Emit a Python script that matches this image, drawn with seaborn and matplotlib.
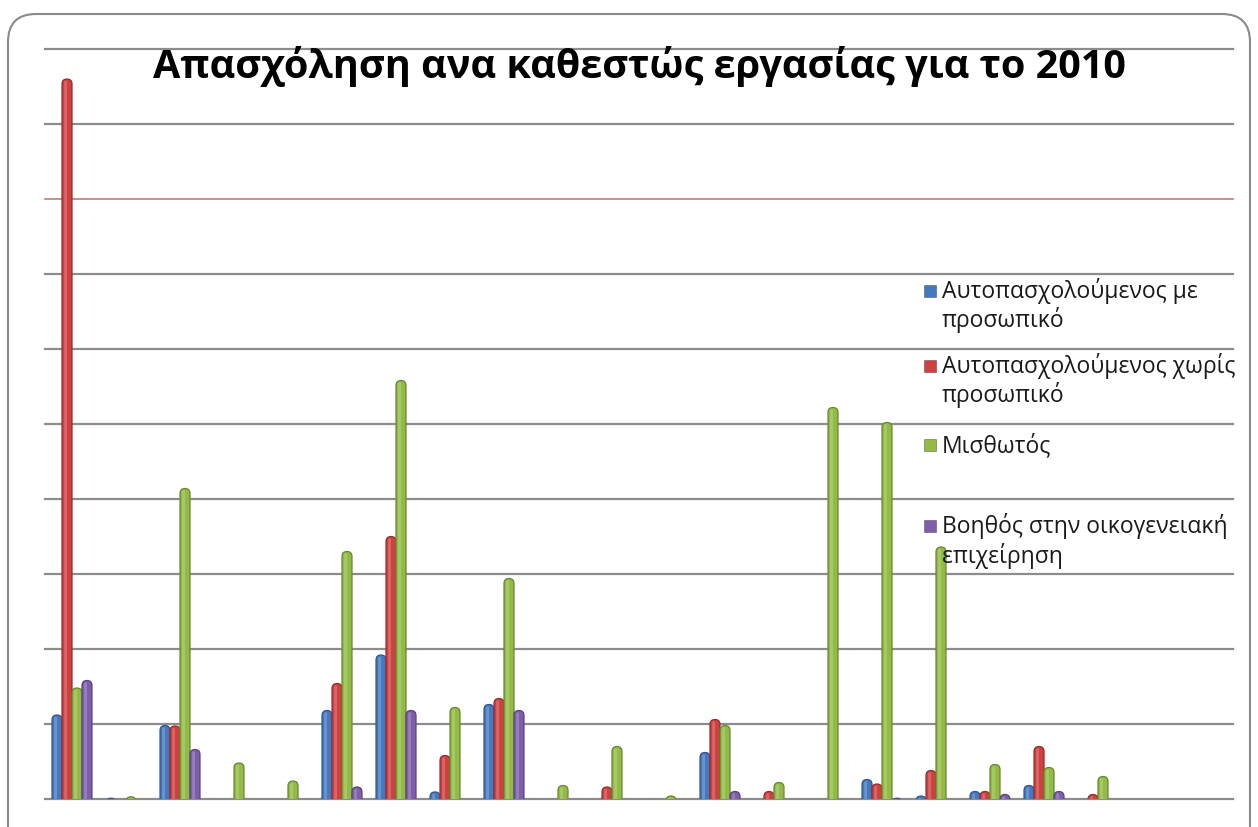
import matplotlib
matplotlib.use("Agg")
import matplotlib.pyplot as plt
from matplotlib.patches import FancyBboxPatch, Rectangle
import matplotlib.colors as mcolors
import seaborn as sns
import pandas as pd

# Data (one gridline = 50 units)
groups = [str(i) for i in range(1, 23)]
series = ["Αυτοπασχολούμενος με προσωπικό",
          "Αυτοπασχολούμενος χωρίς προσωπικό",
          "Μισθωτός",
          "Βοηθός στην οικογενειακή επιχείρηση"]
legend_lines = [["Αυτοπασχολούμενος με", "προσωπικό"],
                ["Αυτοπασχολούμενος χωρίς", "προσωπικό"],
                ["Μισθωτός"],
                ["Βοηθός στην οικογενειακή", "επιχείρηση"]]
with_staff = [56, 0.5, 49, 0, 0, 59, 96, 4.7, 63, 0, 0, 0, 31, 0, 0, 13, 2, 5, 9, 0, 0, 0]
without_staff = [480, 0, 48.7, 0, 0, 77, 175, 29, 67, 0, 8, 0, 53, 5, 0, 10, 19, 5, 35, 3, 0, 0]
employees = [74, 1.5, 207, 24, 12, 165, 279, 61, 147, 9, 35, 2, 49, 11, 261, 251, 168, 23, 21, 15, 0, 0]
family_help = [79, 0, 33, 0, 0, 8, 59, 0, 59, 0, 0, 0, 5, 0, 0, 0.5, 0, 3, 5, 0, 0, 0]
colors = ["#4479c0", "#cf4040", "#91bb45", "#7e5eaa"]

df = pd.DataFrame({
    "group": groups * 4,
    "series": [s for s in series for _ in groups],
    "value": with_staff + without_staff + employees + family_help,
})

W, H = 1258, 828
fig = plt.figure(figsize=(W / 100, H / 100), dpi=100)
ax_px = (45, 800, 1188, 750)  # left, bottom (from top), width, height
ax = fig.add_axes([ax_px[0] / W, 1 - ax_px[1] / H, ax_px[2] / W, ax_px[3] / H])

sns.barplot(data=df, x="group", y="value", hue="series", palette=colors,
            width=0.74, saturation=1, errorbar=None, legend=False, ax=ax)

ax.set_ylim(0, 500)
ax.set_xlim(-0.5, len(groups) - 0.5)

# turn the flat bars into rounded "cylinders"
aspect = (500 / ax_px[3]) / (len(groups) / ax_px[2])
for p in list(ax.patches):
    x, w, h = p.get_x(), p.get_width(), p.get_height()
    fc = p.get_facecolor()
    p.remove()
    if h <= 0:
        continue
    r = w / 2
    ry = r * aspect
    dark = tuple(c * 0.72 for c in fc[:3])
    ax.add_patch(FancyBboxPatch((x, -2 * ry), w, h + 2 * ry,
                                boxstyle=f"round,pad=0,rounding_size={r}",
                                mutation_aspect=aspect, fc=fc, ec=dark,
                                lw=0.9, zorder=2))
    light = tuple(min(1, c * 0.55 + 0.45) for c in fc[:3])
    hw = w * 0.28
    ax.add_patch(FancyBboxPatch((x + w * 0.22, -2 * ry), hw, h + 2 * ry - ry * 0.35,
                                boxstyle=f"round,pad=0,rounding_size={hw / 2}",
                                mutation_aspect=aspect, fc=light, ec="none",
                                alpha=0.45, zorder=2.1))

for v in range(0, 501, 50):
    c, lw = ("#c86a68", 1.1) if v == 400 else ("#8c8c8c", 1.6)
    ax.axhline(v, color=c, lw=lw, zorder=0.5, clip_on=False)
ax.set_xticks([])
ax.set_yticks([])
ax.set_xlabel("")
ax.set_ylabel("")
for s in ax.spines.values():
    s.set_visible(False)

# rounded frame
frame = FancyBboxPatch((8 / 100, -0.3), (1250 - 8) / 100, (H - 15) / 100 + 0.3,
                       boxstyle="round,pad=0,rounding_size=0.28",
                       transform=fig.dpi_scale_trans, fill=False,
                       ec="#8a8a8a", lw=1.5)
fig.add_artist(frame)

fig.text(639 / W, 1 - 78 / H, "Απασχόληση ανα καθεστώς εργασίας για το 2010",
         ha="center", va="baseline", fontsize=28.5, fontweight="bold",
         family="Open Sans")

# legend, drawn like the original (marker beside the first line)
baselines = [[298, 327], [373, 402], [452], [533, 563]]
for col, lines, ys in zip(colors, legend_lines, baselines):
    fig.add_artist(Rectangle((924 / W, 1 - ys[0] / H), 12 / W, 12 / H,
                             transform=fig.transFigure, fc=col,
                             ec=(0, 0, 0, 0.35), lw=0.6))
    for txt, y in zip(lines, ys):
        fig.text(942 / W, 1 - y / H, txt, ha="left", va="baseline",
                 fontsize=16.5, family="Open Sans", color="#1a1a1a")

fig.savefig("out.png", dpi=100)
